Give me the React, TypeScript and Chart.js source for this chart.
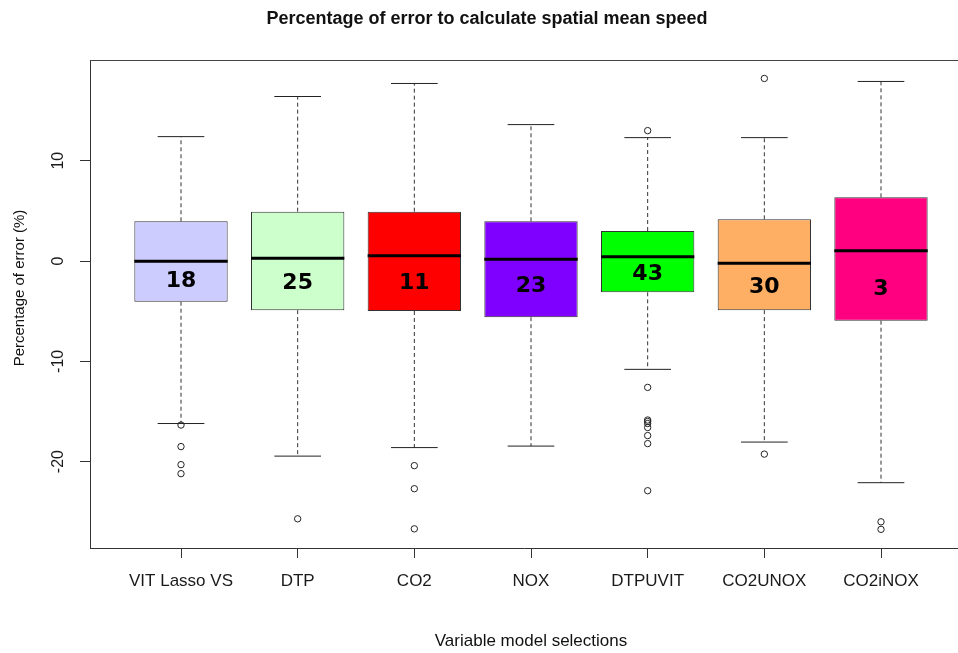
import React, { useEffect, useRef } from "react";
import { Chart, registerables } from "chart.js";

Chart.register(...registerables);

// ---------- data ----------
const categories = ["VIT Lasso VS", "DTP", "CO2", "NOX", "DTPUVIT", "CO2UNOX", "CO2iNOX"];
const lowerWhisker = [-16.2, -19.45, -18.6, -18.45, -10.8, -18.05, -22.1];
const q1 = [-4.06, -4.9, -4.98, -5.6, -3.12, -4.9, -5.95];
const median = [-0.03, 0.27, 0.53, 0.17, 0.43, -0.23, 1.03];
const q3 = [3.96, 4.92, 4.92, 3.96, 2.99, 4.16, 6.35];
const upperWhisker = [12.4, 16.4, 17.7, 13.6, 12.3, 12.3, 17.9];
const outliers = [
  [-16.35, -18.5, -20.3, -21.2],
  [-25.7],
  [-20.4, -22.7, -26.7],
  [],
  [13.0, -12.6, -15.85, -16.0, -16.2, -16.6, -17.4, -18.2, -22.9],
  [18.2, -19.25],
  [-26.0, -26.75],
];
const boxLabels = ["18", "25", "11", "23", "43", "30", "3"];
const boxLabelY = [-2.05, -2.2, -2.2, -2.55, -1.37, -2.57, -2.8];
const yTicks = [-20, -10, 0, 10];

// ---------- styles ----------
const boxColors = ["#CCCCFF", "#CCFFCC", "#FF0000", "#7F00FF", "#00FF00", "#FFAF64", "#FF0080"];
const TITLE = "Percentage of error to calculate spatial mean speed";
const X_TITLE = "Variable model selections";
const Y_TITLE = "Percentage of error (%)";
const SANS = '"Liberation Sans", Arial, sans-serif';
const BOX_HALF = 0.4;
const STAPLE_HALF = 0.2;

type P = { x: number; y: number | null };
const segments = (list: P[][]): P[] =>
  list.flatMap((s) => [...s, { x: s[0].x, y: null }]);

export default function App() {
  const ref = useRef<HTMLCanvasElement | null>(null);

  useEffect(() => {
    if (!ref.current) return;
    const pos = categories.map((_, i) => i + 1);

    const boxData = pos.map((x, i) => ({ x, y: [q1[i], q3[i]] }));
    const medianData = segments(
      pos.map((x, i) => [
        { x: x - BOX_HALF, y: median[i] },
        { x: x + BOX_HALF, y: median[i] },
      ])
    );
    const whiskerData = segments(
      pos.flatMap((x, i) => [
        [{ x, y: q3[i] }, { x, y: upperWhisker[i] }],
        [{ x, y: q1[i] }, { x, y: lowerWhisker[i] }],
      ])
    );
    const stapleData = segments(
      pos.flatMap((x, i) => [
        [{ x: x - STAPLE_HALF, y: upperWhisker[i] }, { x: x + STAPLE_HALF, y: upperWhisker[i] }],
        [{ x: x - STAPLE_HALF, y: lowerWhisker[i] }, { x: x + STAPLE_HALF, y: lowerWhisker[i] }],
      ])
    );
    const outlierData = pos.flatMap((x, i) => outliers[i].map((y) => ({ x, y })));

    const textPlugin = {
      id: "rtext",
      afterDatasetsDraw(chart: any) {
        const { ctx, scales } = chart;
        ctx.save();
        ctx.fillStyle = "#000";
        ctx.textAlign = "center";
        ctx.textBaseline = "middle";
        ctx.font = 'bold 22px "DejaVu Sans", Verdana, sans-serif';
        boxLabels.forEach((t, i) => {
          ctx.fillText(t, scales.x.getPixelForValue(i + 1), scales.y.getPixelForValue(boxLabelY[i]));
        });
        ctx.restore();
      },
      afterDraw(chart: any) {
        const { ctx, chartArea } = chart;
        ctx.save();
        // top frame line
        ctx.strokeStyle = "#444";
        ctx.lineWidth = 1;
        ctx.beginPath();
        ctx.moveTo(chartArea.left, Math.round(chartArea.top) + 0.5);
        ctx.lineTo(chart.width, Math.round(chartArea.top) + 0.5);
        ctx.stroke();
        ctx.fillStyle = "#111";
        ctx.textAlign = "center";
        ctx.textBaseline = "middle";
        ctx.font = `bold 18px ${SANS}`;
        ctx.fillText(TITLE, 487, 19);
        ctx.font = `17px ${SANS}`;
        ctx.fillText(X_TITLE, 531, 641);
        ctx.translate(20, 288);
        ctx.rotate(-Math.PI / 2);
        ctx.font = `15px ${SANS}`;
        ctx.fillText(Y_TITLE, 0, 0);
        ctx.restore();
      },
    };

    const chart = new Chart(ref.current, {
      type: "bar",
      data: {
        datasets: [
          {
            type: "bar",
            data: boxData as any,
            backgroundColor: boxColors,
            borderColor: "#333",
            borderWidth: 1,
            borderSkipped: false,
            barPercentage: 1,
            categoryPercentage: 0.8,
            order: 5,
          },
          {
            type: "line",
            data: whiskerData as any,
            borderColor: "#333",
            borderWidth: 1,
            borderDash: [4, 3],
            pointRadius: 0,
            spanGaps: false,
            order: 4,
          },
          {
            type: "line",
            data: stapleData as any,
            borderColor: "#222",
            borderWidth: 1,
            pointRadius: 0,
            spanGaps: false,
            order: 3,
          },
          {
            type: "line",
            data: medianData as any,
            borderColor: "#000",
            borderWidth: 3,
            borderCapStyle: "butt",
            pointRadius: 0,
            spanGaps: false,
            order: 2,
          },
          {
            type: "line",
            data: outlierData as any,
            showLine: false,
            pointRadius: 3.2,
            pointBorderWidth: 1,
            pointBorderColor: "#222",
            pointBackgroundColor: "rgba(255,255,255,0)",
            order: 1,
          },
        ],
      },
      options: {
        responsive: false,
        animation: false,
        events: [],
        layout: { autoPadding: false, padding: { top: 60, left: 0, right: 0, bottom: 0 } },
        plugins: {
          legend: { display: false },
          tooltip: { enabled: false },
          title: { display: false },
        },
        scales: {
          x: {
            type: "linear",
            offset: false,
            min: 0.22,
            max: 7.66,
            afterBuildTicks: (s: any) => {
              s.ticks = categories.map((_, i) => ({ value: i + 1 }));
            },
            afterFit: (s: any) => {
              s.height = 105;
              s.paddingRight = 0;
              s.paddingLeft = 0;
            },
            ticks: {
              autoSkip: false,
              maxRotation: 0,
              padding: 13,
              color: "#1a1a1a",
              font: { family: SANS, size: 17 },
              callback: (_v: any, i: number) => categories[i],
            },
            grid: { offset: false, drawOnChartArea: false, drawTicks: true, tickLength: 10, color: "#333" },
            border: { display: true, color: "#333", width: 1 },
          },
          y: {
            type: "linear",
            min: -28.61,
            max: 20.04,
            afterBuildTicks: (s: any) => {
              s.ticks = yTicks.map((v) => ({ value: v }));
            },
            afterFit: (s: any) => {
              s.width = 90;
            },
            ticks: {
              minRotation: 90,
              maxRotation: 90,
              crossAlign: "center",
              padding: 10,
              color: "#1a1a1a",
              font: { family: SANS, size: 16 },
              callback: (v: any) => String(v),
            },
            grid: { drawOnChartArea: false, drawTicks: true, tickLength: 10, color: "#333" },
            border: { display: true, color: "#333", width: 1 },
          },
        },
      } as any,
      plugins: [textPlugin],
    });

    return () => chart.destroy();
  }, []);

  return (
    <div style={{ position: "absolute", left: 0, top: 0, width: 958, height: 653, background: "#fff" }}>
      <canvas ref={ref} width={958} height={653} style={{ display: "block" }} />
    </div>
  );
}
